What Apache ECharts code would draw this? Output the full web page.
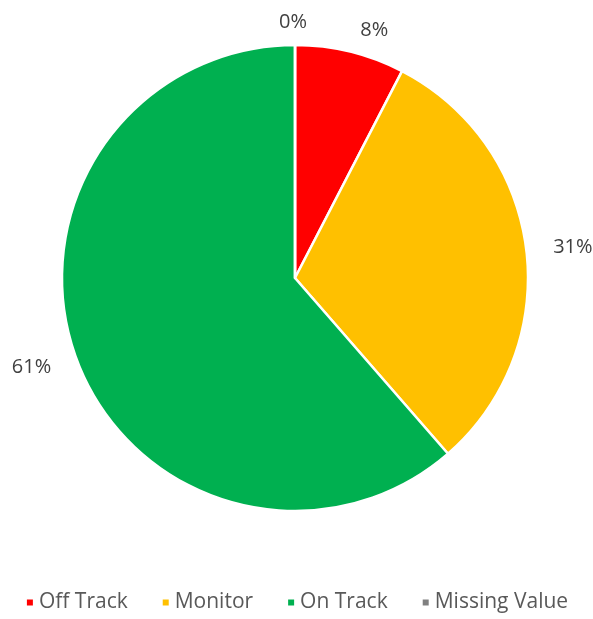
<!DOCTYPE html>
<html>
<head>
<meta charset="utf-8">
<script src="https://cdn.jsdelivr.net/npm/echarts@6/dist/echarts.min.js"></script>
<style>
    html, body { margin: 0; padding: 0; background: #fff; }
    #chart { width: 593px; height: 619px; }
</style>
</head>
<body>
<div id="chart"></div>
<script>
    // chart data (percent of items)
    const categories = ["Off Track", "Monitor", "On Track", "Missing Value"];
    const shares = [7.6, 31.0, 61.4, 0];
    const colors = ["#ff0000", "#ffc000", "#00b050", "#808080"];

    const chart = echarts.init(document.getElementById("chart"));

    const option = {
        color: colors,
        textStyle: { fontFamily: "Open Sans" },
        legend: {
            bottom: 1,
            left: "center",
            itemWidth: 8,
            itemHeight: 8,
            itemGap: 33,
            icon: "rect",
            textStyle: { fontSize: 21, color: "#595959", fontFamily: "Open Sans" },
            data: categories
        },
        series: [{
            type: "pie",
            center: [295, 278],
            radius: 233,
            startAngle: 90,
            clockwise: true,
            avoidLabelOverlap: false,
            itemStyle: { borderColor: "#fff", borderWidth: 2.5 },
            label: {
                show: true,
                position: "outside",
                fontSize: 20,
                color: "#404040",
                fontFamily: "Open Sans",
                formatter: p => Math.round(p.percent) + "%"
            },
            labelLine: { show: false, length: 22, length2: 0 },
            emphasis: { disabled: true },
            data: categories.map((c, i) => ({
                name: c,
                value: shares[i],
                // the empty slice sits on the top; centre its label over it
                label: shares[i] === 0 ? { offset: [17, -1] } : undefined
            }))
        }]
    };

    chart.setOption(option);
</script>
</body>
</html>
